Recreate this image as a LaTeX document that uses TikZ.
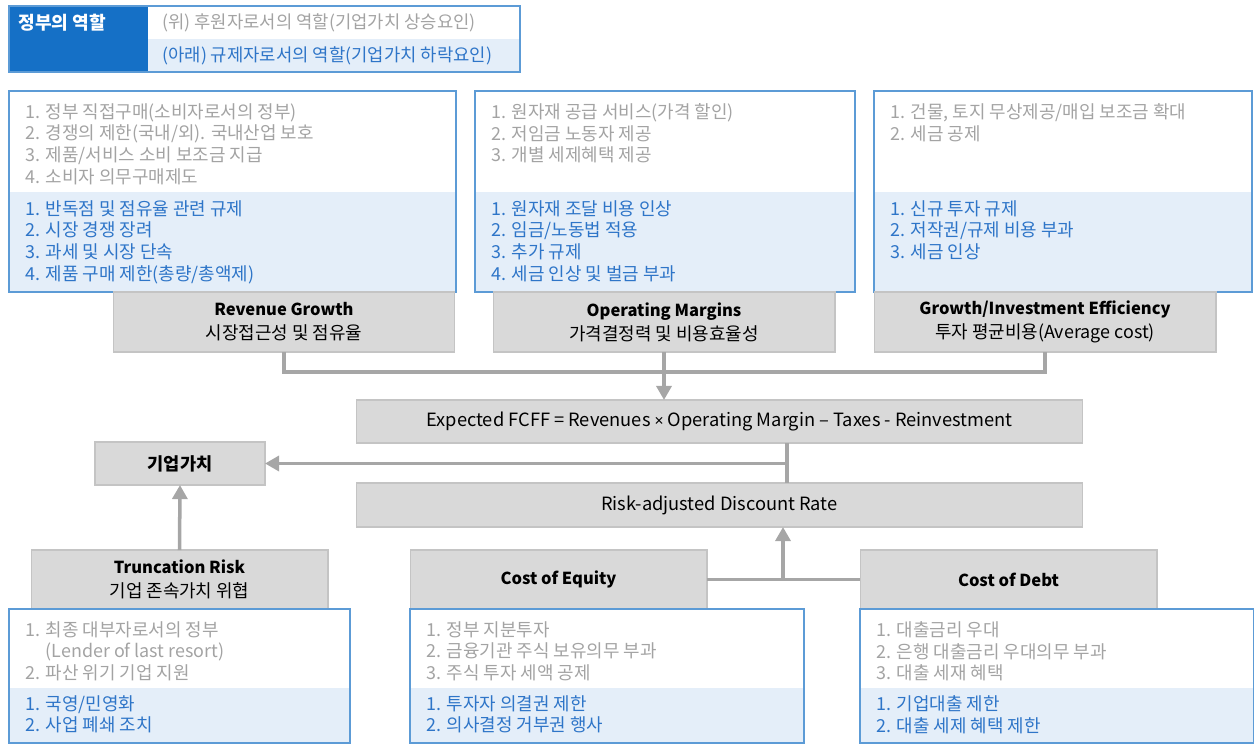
\documentclass[tikz,border=0pt]{standalone}
\usepackage{fontspec}
\setmainfont{Noto Sans CJK KR}
\newfontfamily\signfont{Noto Sans}
\usetikzlibrary{arrows.meta,fit}

\definecolor{govblue}{HTML}{1570C6}
\definecolor{frameblue}{HTML}{5C9BD6}
\definecolor{paleblue}{HTML}{E4EEF9}
\definecolor{txtblue}{HTML}{2E75C8}
\definecolor{txtgray}{HTML}{A3A3A3}
\definecolor{boxgray}{HTML}{D9D9D9}
\definecolor{edgegray}{HTML}{C4C4C4}
\definecolor{arrgray}{HTML}{A6A6A6}

\begin{document}
\begin{tikzpicture}[x=0.02cm,y=-0.02cm,
  cell/.style={inner sep=0pt,outer sep=0pt},
  factor/.style={cell,draw=edgegray,fill=boxgray,line width=0.6pt,align=center,
    font=\fontsize{10.2}{13.6}\selectfont},
  head/.style={font=\fontsize{9.4}{12}\selectfont\bfseries},
  listbox/.style={cell,draw=frameblue,line width=0.7pt},
  regpart/.style={cell,fill=paleblue},
  aidtext/.style={inner sep=0pt,anchor=north west,align=left,text=txtgray,
    font=\fontsize{10.2}{12.4}\selectfont},
  regtext/.style={aidtext,text=txtblue},
  link/.style={draw=arrgray,line width=2pt},
  push/.style={link,-{Triangle[length=8pt,width=8.5pt]}}]
\useasboundingbox (0,0) rectangle (1254,744);

% legend
\node (rolecell) [cell,fill=govblue,fit={(9,6) (148,72)}] {};
\node (regrow) [regpart,fit={(148,39) (520,72)}] {};
\node (legend) [listbox,fit={(9,6) (520,72)}] {};
\node (rolename) [anchor=west,inner sep=0pt,text=white,font=\fontsize{10.3}{12}\selectfont\bfseries] at (18,23) {정부의 역할};
\node (aidnote) [anchor=west,inner sep=0pt,text=txtgray,font=\fontsize{10.1}{12}\selectfont] at (162,23) {(위) 후원자로서의 역할(기업가치 상승요인)};
\node (regnote) [anchor=west,inner sep=0pt,text=txtblue,font=\fontsize{10.1}{12}\selectfont] at (162,56) {(아래) 규제자로서의 역할(기업가치 하락요인)};

% upper factors
\node (revreg) [regpart,fit={(9,192) (456,292)}] {};
\node (revbox) [listbox,fit={(9,91) (456,292)}] {};
\node (revaid) [aidtext] at (25,103) {1. 정부 직접구매(소비자로서의 정부)\\2. 경쟁의 제한(국내/외). 국내산업 보호\\3. 제품/서비스 소비 보조금 지급\\4. 소비자 의무구매제도};
\node (revctl) [regtext] at (25,200) {1. 반독점 및 점유율 관련 규제\\2. 시장 경쟁 장려\\3. 과세 및 시장 단속\\4. 제품 구매 제한(총량/총액제)};
\node (revenue) [factor,minimum width=6.84cm,minimum height=1.2cm] at (284,322) {{\fontsize{9.4}{12}\selectfont\bfseries Revenue Growth}\\시장접근성 및 점유율};

\node (marreg) [regpart,fit={(475,192) (855,292)}] {};
\node (marbox) [listbox,fit={(475,91) (855,292)}] {};
\node (maraid) [aidtext] at (491,103) {1. 원자재 공급 서비스(가격 할인)\\2. 저임금 노동자 제공\\3. 개별 세제혜택 제공};
\node (marctl) [regtext] at (491,200) {1. 원자재 조달 비용 인상\\2. 임금/노동법 적용\\3. 추가 규제\\4. 세금 인상 및 벌금 부과};
\node (margin) [factor,minimum width=6.84cm,minimum height=1.2cm] at (664,322) {{\fontsize{9.4}{12}\selectfont\bfseries Operating Margins}\\가격결정력 및 비용효율성};

\node (invreg) [regpart,fit={(874,192) (1252,292)}] {};
\node (invbox) [listbox,fit={(874,91) (1252,292)}] {};
\node (invaid) [aidtext] at (890,103) {1. 건물, 토지 무상제공/매입 보조금 확대\\2. 세금 공제};
\node (invctl) [regtext] at (890,200) {1. 신규 투자 규제\\2. 저작권/규제 비용 부과\\3. 세금 인상};
\node (invest) [factor,minimum width=6.84cm,minimum height=1.2cm] at (1045,322) {{\fontsize{9.4}{12}\selectfont\bfseries Growth/Investment Efficiency}\\투자 평균비용(Average cost)};

% valuation
\node (fcff) [factor,minimum width=14.54cm,minimum height=0.86cm,font=\fontsize{10.4}{12}\selectfont] at (719.5,421.5) {Expected FCFF = Revenues {\signfont\small ×} Operating Margin – Taxes - Reinvestment};
\node (risk) [factor,minimum width=14.54cm,minimum height=0.88cm,font=\fontsize{10.4}{12}\selectfont] at (719.5,505) {Risk-adjusted Discount Rate};
\node (value) [factor,minimum width=3.4cm,minimum height=0.86cm,font=\fontsize{10}{12}\selectfont\bfseries] at (180,463.5) {기업가치};

% lower factors
\node (truncation) [factor,minimum width=5.94cm,minimum height=1.18cm] at (179.5,579.5) {{\fontsize{9.4}{12}\selectfont\bfseries Truncation Risk}\\기업 존속가치 위협};
\node (trureg) [regpart,fit={(9,688) (350,743)}] {};
\node (trubox) [listbox,fit={(9,609) (350,743)}] {};
\node (truaid) [aidtext] at (25,621) {1. 최종 대부자로서의 정부\\\phantom{1. }(Lender of last resort)\\2. 파산 위기 기업 지원};
\node (tructl) [regtext] at (25,695) {1. 국영/민영화\\2. 사업 폐쇄 조치};

\node (equity) [factor,head,minimum width=5.94cm,minimum height=1.18cm] at (558.5,579.5) {Cost of Equity};
\node (equreg) [regpart,fit={(410,688) (804,743)}] {};
\node (equbox) [listbox,fit={(410,609) (804,743)}] {};
\node (equaid) [aidtext] at (426,621) {1. 정부 지분투자\\2. 금융기관 주식 보유의무 부과\\3. 주식 투자 세액 공제};
\node (equctl) [regtext] at (426,695) {1. 투자자 의결권 제한\\2. 의사결정 거부권 행사};

\node (debt) [factor,head,minimum width=5.94cm,minimum height=1.18cm] at (1008.5,579.5) {Cost of Debt};
\node (debreg) [regpart,fit={(860,688) (1254,743)}] {};
\node (debbox) [listbox,fit={(860,609) (1254,743)}] {};
\node (debaid) [aidtext] at (876,621) {1. 대출금리 우대\\2. 은행 대출금리 우대의무 부과\\3. 대출 세재 혜택};
\node (debctl) [regtext] at (876,695) {1. 기업대출 제한\\2. 대출 세제 혜택 제한};

% connectors
\draw[link] (revenue.south) -- ++(0,20) -| (invest.south);
\draw[push] (margin.south) -- (margin.south |- fcff.north);
\coordinate (valuejoin) at (787,463.5);
\draw[link] (valuejoin |- fcff.south) -- (valuejoin |- risk.north);
\draw[push] (valuejoin) -- (value.east);
\draw[push] (truncation.north) -- (value.south);
\coordinate (ratejoin) at (783,579.5);
\draw[link] (equity.east) -- (debt.west);
\draw[push] (ratejoin) -- (ratejoin |- risk.south);
\end{tikzpicture}
\end{document}
